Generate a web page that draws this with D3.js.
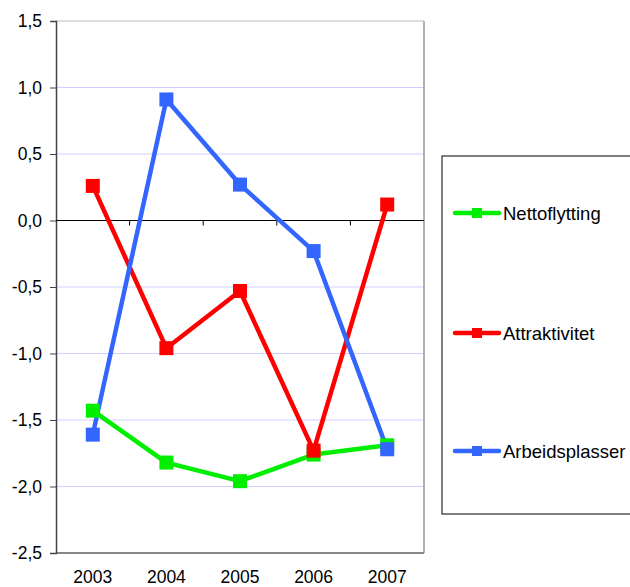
<!DOCTYPE html>
<html><head><meta charset="utf-8">
<script src="https://cdn.jsdelivr.net/npm/d3@7"></script>
<style>body{margin:0;background:#fff}svg{display:block}text{font-family:"Liberation Sans",Arial,sans-serif}</style>
</head><body>
<script>
const years = ["2003","2004","2005","2006","2007"];
const nettoflytting = [-1.43, -1.82, -1.96, -1.76, -1.69];
const attraktivitet = [0.26, -0.96, -0.53, -1.73, 0.12];
const arbeidsplasser = [-1.61, 0.91, 0.27, -0.23, -1.72];
const seriesNames = ["Nettoflytting","Attraktivitet","Arbeidsplasser"];
const seriesColors = ["#00ee00","#ff0000","#3366ff"];
const yTicks = [1.5,1.0,0.5,0.0,-0.5,-1.0,-1.5,-2.0,-2.5];

const series = [nettoflytting, attraktivitet, arbeidsplasser].map((v,i)=>({name:seriesNames[i],color:seriesColors[i],values:v}));

const W=630,H=587;
const svg=d3.select("body").append("svg").attr("width",W).attr("height",H);
const x=d3.scaleBand().domain(years).range([56,424]);
const y=d3.scaleLinear().domain([-2.5,1.5]).range([553,21]);
const fmt=d=>d3.format(".1f")(d).replace(".",",").replace("−","-");

// gridlines
svg.append("g").selectAll("line").data(yTicks.filter(d=>d!==1.5&&d!==0&&d!==-2.5)).join("line")
  .attr("x1",56).attr("x2",424).attr("y1",d=>y(d)).attr("y2",d=>y(d))
  .attr("stroke","#d0d0ff").attr("stroke-width",1);
// frame top/right/bottom
svg.append("line").attr("x1",56).attr("x2",424).attr("y1",y(1.5)).attr("y2",y(1.5)).attr("stroke","#bbbbbb").attr("stroke-width",1);
svg.append("line").attr("x1",424).attr("x2",424).attr("y1",y(1.5)).attr("y2",y(-2.5)).attr("stroke","#999").attr("stroke-width",1.5);
svg.append("line").attr("x1",56).attr("x2",424).attr("y1",y(-2.5)).attr("y2",y(-2.5)).attr("stroke","#888").attr("stroke-width",2);

// y axis
const yAxis=d3.axisLeft(y).tickValues(yTicks).tickFormat(fmt).tickSize(6).tickPadding(8);
const gy=svg.append("g").attr("transform","translate(56,0)").call(yAxis);
gy.select(".domain").attr("stroke","#444").attr("stroke-width",1.5);
gy.selectAll(".tick line").attr("stroke","#444");
gy.selectAll("text").attr("font-size",17.5).attr("fill","#000").attr("font-family","Liberation Sans, Arial, sans-serif");

// zero line with ticks
svg.append("line").attr("x1",56).attr("x2",424).attr("y1",y(0)).attr("y2",y(0)).attr("stroke","#000").attr("stroke-width",1.2);
svg.append("g").selectAll("line").data(years.slice(1)).join("line")
  .attr("x1",d=>x(d)).attr("x2",d=>x(d)).attr("y1",y(0)).attr("y2",y(0)+5).attr("stroke","#000");

// x labels
svg.append("g").selectAll("text").data(years).join("text")
  .attr("x",d=>x(d)+x.bandwidth()/2).attr("y",583).attr("text-anchor","middle")
  .attr("font-size",17.5).attr("fill","#000").text(d=>d);

// lines
const line=d3.line().x((d,i)=>x(years[i])+x.bandwidth()/2).y(d=>y(d));
svg.append("g").selectAll("path").data(series).join("path")
  .attr("d",s=>line(s.values)).attr("fill","none").attr("stroke",s=>s.color).attr("stroke-width",4.5).attr("stroke-linejoin","round");
// markers
series.forEach(s=>{
  svg.append("g").selectAll("rect").data(s.values).join("rect")
    .attr("x",(d,i)=>x(years[i])+x.bandwidth()/2-7).attr("y",d=>y(d)-7)
    .attr("width",14).attr("height",14).attr("fill",s.color);
});

// legend
svg.append("rect").attr("x",442).attr("y",156).attr("width",200).attr("height",358)
  .attr("fill","#fff").attr("stroke","#000").attr("stroke-width",1);
const ly=[213,333,451];
series.forEach((s,i)=>{
  const g=svg.append("g");
  g.append("line").attr("x1",455).attr("x2",499).attr("y1",ly[i]).attr("y2",ly[i]).attr("stroke",s.color).attr("stroke-width",4.5).attr("stroke-linecap","round");
  g.append("rect").attr("x",472).attr("y",ly[i]-5).attr("width",10).attr("height",10).attr("fill",s.color);
  g.append("text").attr("x",503).attr("y",ly[i]+6.5).attr("font-size",18.5).attr("fill","#000").text(s.name);
});
</script>
</body></html>
